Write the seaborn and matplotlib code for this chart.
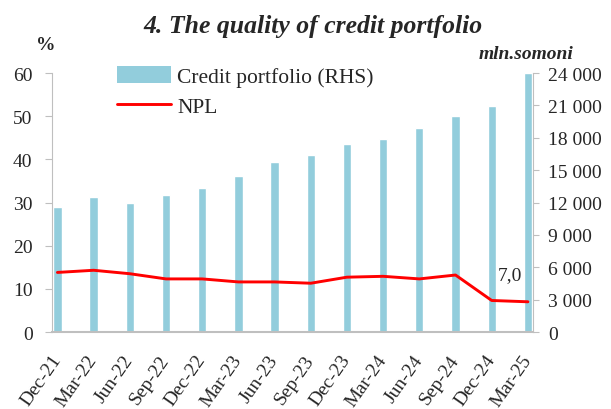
import numpy as np
import pandas as pd
import seaborn as sns
import matplotlib.pyplot as plt
from matplotlib.patches import Patch
from matplotlib.lines import Line2D
from matplotlib.ticker import FuncFormatter

quarters = ["Dec-21", "Mar-22", "Jun-22", "Sep-22", "Dec-22", "Mar-23", "Jun-23",
            "Sep-23", "Dec-23", "Mar-24", "Jun-24", "Sep-24", "Dec-24", "Mar-25"]
credit = [11600, 12550, 12000, 12650, 13300, 14450, 15720,
          16400, 17450, 17900, 18900, 20000, 20900, 24000]
npl = [13.8, 14.3, 13.5, 12.3, 12.3, 11.6, 11.6,
       11.3, 12.7, 12.9, 12.3, 13.2, 7.3, 7.0]

sns.set_style("white")
plt.rcParams['font.family'] = ['Liberation Serif', 'DejaVu Serif']

df = pd.DataFrame({"q": quarters, "credit": credit, "npl": npl, "pos": np.arange(len(quarters))})

fig = plt.figure(figsize=(6.11, 4.10), dpi=100)
ax = fig.add_axes([0.0851, 0.1878, 0.7872, 0.6317])
ax2 = ax.twinx()

bar_col = "#92CDDC"
red = "#FF0000"
sns.barplot(data=df, x="pos", y="credit", color=bar_col, width=0.23, native_scale=True,
            ax=ax2, saturation=1)
sns.lineplot(data=df, x="pos", y="npl", color=red, linewidth=2.1, ax=ax)
ax.lines[0].set_solid_joinstyle("round")

# line axis above the bars
ax.set_zorder(ax2.get_zorder() + 1)
ax.patch.set_visible(False)

ax.set_xlim(-0.15, 13.14)
ax.set_ylim(0, 60)
ax2.set_ylim(0, 24000)
ax.set_yticks(range(0, 61, 10))
ax2.set_yticks(range(0, 24001, 3000))
ax2.yaxis.set_major_formatter(FuncFormatter(lambda v, p: f"{int(v):,}".replace(",", " ")))

ax.set_xticks(df["pos"])
ax.set_xticklabels(quarters, rotation=55, ha="right", va="center",
                   rotation_mode="anchor", fontsize=14)
ax.set_xlabel("")
ax.set_ylabel("")
ax2.set_xlabel("")
ax2.set_ylabel("")

gray = "#BFBFBF"
for a in (ax, ax2):
    for s in a.spines.values():
        s.set_visible(False)
ax.spines["left"].set_visible(True)
ax.spines["left"].set_color(gray)
ax.spines["bottom"].set_visible(True)
ax.spines["bottom"].set_color(gray)
ax.spines["bottom"].set_linewidth(1.5)
ax2.spines["right"].set_visible(True)
ax2.spines["right"].set_color(gray)

ax.tick_params(axis="y", left=True, length=5, color=gray, labelsize=14, pad=9)
ax.tick_params(axis="x", bottom=False, labelsize=14, pad=14)
ax2.tick_params(axis="y", right=True, length=4, color=gray, labelsize=14, pad=7)

ax.text(12.5, 13.2, "7,0", fontsize=14, ha="center", va="center")

handles = [Patch(facecolor=bar_col, edgecolor="none"),
           Line2D([0], [0], color=red, lw=2.1)]
ax.legend(handles, ["Credit portfolio (RHS)", "NPL"], loc="upper left",
          bbox_to_anchor=(0.117, 1.06), frameon=False, fontsize=15.5,
          handlelength=2.5, handleheight=0.8, labelspacing=0.45, handletextpad=0.3,
          borderaxespad=0)

fig.text(0.513, 0.936, "4. The quality of credit portfolio", fontsize=18.5,
         fontweight="bold", fontstyle="italic", ha="center", va="center")
fig.text(0.075, 0.89, "%", fontsize=14, fontweight="bold", ha="center", va="center")
fig.text(0.938, 0.868, "mln.somoni", fontsize=14, fontweight="bold",
         fontstyle="italic", ha="right", va="center")

fig.savefig("out.png", dpi=100)
